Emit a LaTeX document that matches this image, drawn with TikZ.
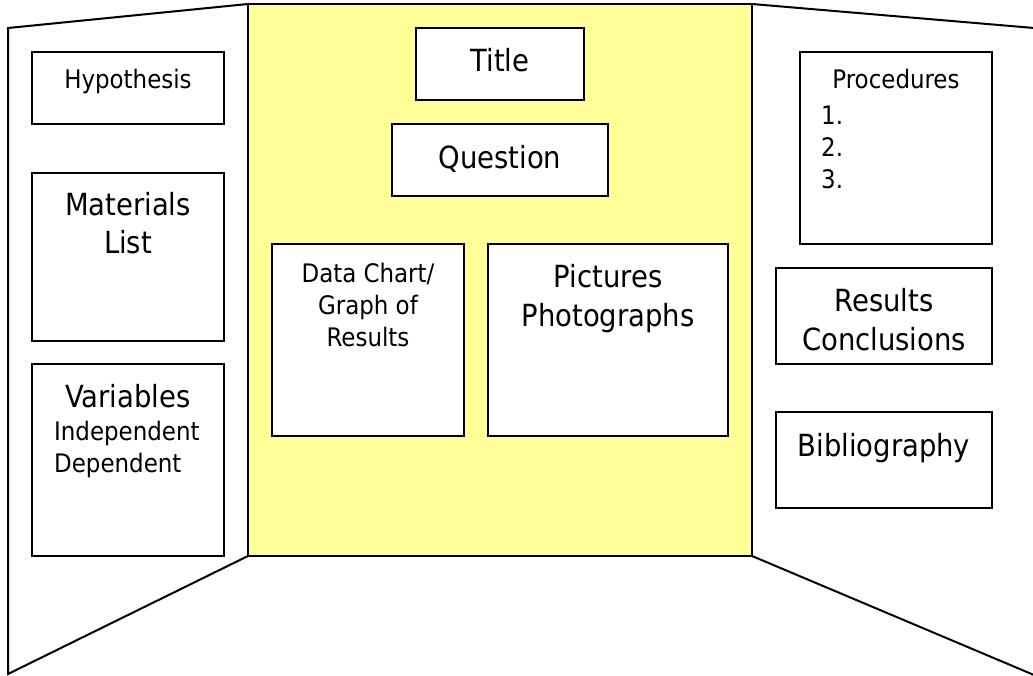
\documentclass[tikz,border=0pt]{standalone}
\usepackage{fontspec}
\setmainfont{DejaVu Sans Condensed}
\usetikzlibrary{positioning}
\definecolor{boardyellow}{RGB}{255,255,153}

\begin{document}
\begin{tikzpicture}[x=1pt,y=-1pt,
    panel/.style={draw,line width=2pt,line join=miter},
    card/.style={draw,line width=2pt,fill=white,inner sep=0pt},
    bigtext/.style={font=\fontsize{30.5}{38.5}\selectfont,align=center,inner sep=0pt,anchor=base},
    smalltext/.style={font=\fontsize{25.5}{32}\selectfont,align=center,inner sep=0pt,anchor=base}]
    \useasboundingbox (0,0) rectangle (1033,676);
    % the three panels of the board
    \draw[panel,fill=white] (8,28) -- (248,4) -- (248,556) -- (8,674) -- cycle;
    \draw[panel,fill=boardyellow] (248,4) rectangle (752,556);
    \draw[panel] (1034,28) -- (752,4) (752,556) -- (1034,675);
    % left panel (text anchors sit on the last line's baseline)
    \draw node (hypothesis) [card,minimum width=192,minimum height=72] at (128,88) {}
          node (materials) [card,minimum width=192,minimum height=168] at (128,257) {}
          node (variables) [card,minimum width=192,minimum height=192] at (128,460) {};
    \node (hypothesistext) [smalltext] at (128,89) {Hypothesis};
    \node (materialstext) [bigtext] at (128,254) {Materials\\List};
    \node (variablestext) [bigtext] at (128,407) {Variables};
    \node (variablekinds) [smalltext,align=left,anchor=base west] at (54,472) {Independent\\Dependent};
    % middle panel
    \draw node (title) [card,minimum width=168,minimum height=72] at (500,64) {}
          node (question) [card,minimum width=216,minimum height=72] at (500,160) {}
          node (datachart) [card,minimum width=192,minimum height=192] at (368,340) {}
          node (pictures) [card,minimum width=240,minimum height=192] at (608,340) {};
    \node (titletext) [bigtext] at (500,72) {Title};
    \node (questiontext) [bigtext] at (500,169) {Question};
    \node (datacharttext) [smalltext] at (368,346) {Data Chart/\\Graph of\\Results};
    \node (picturestext) [bigtext] at (608,326) {Pictures\\Photographs};
    % right panel
    \draw node (procedures) [card,minimum width=192,minimum height=192] at (896,148) {}
          node (results) [card,minimum width=216,minimum height=96] at (884,316) {}
          node (bibliography) [card,minimum width=216,minimum height=96] at (884,460) {};
    \node (procedurestext) [smalltext] at (896,89) {Procedures};
    \node (steps) [smalltext,align=left,anchor=base west] at (821,189) {1.\\2.\\3.};
    \node (resultstext) [bigtext] at (884,350) {Results\\Conclusions};
    \node (bibliographytext) [bigtext] at (884,456) {Bibliography};
\end{tikzpicture}
\end{document}
